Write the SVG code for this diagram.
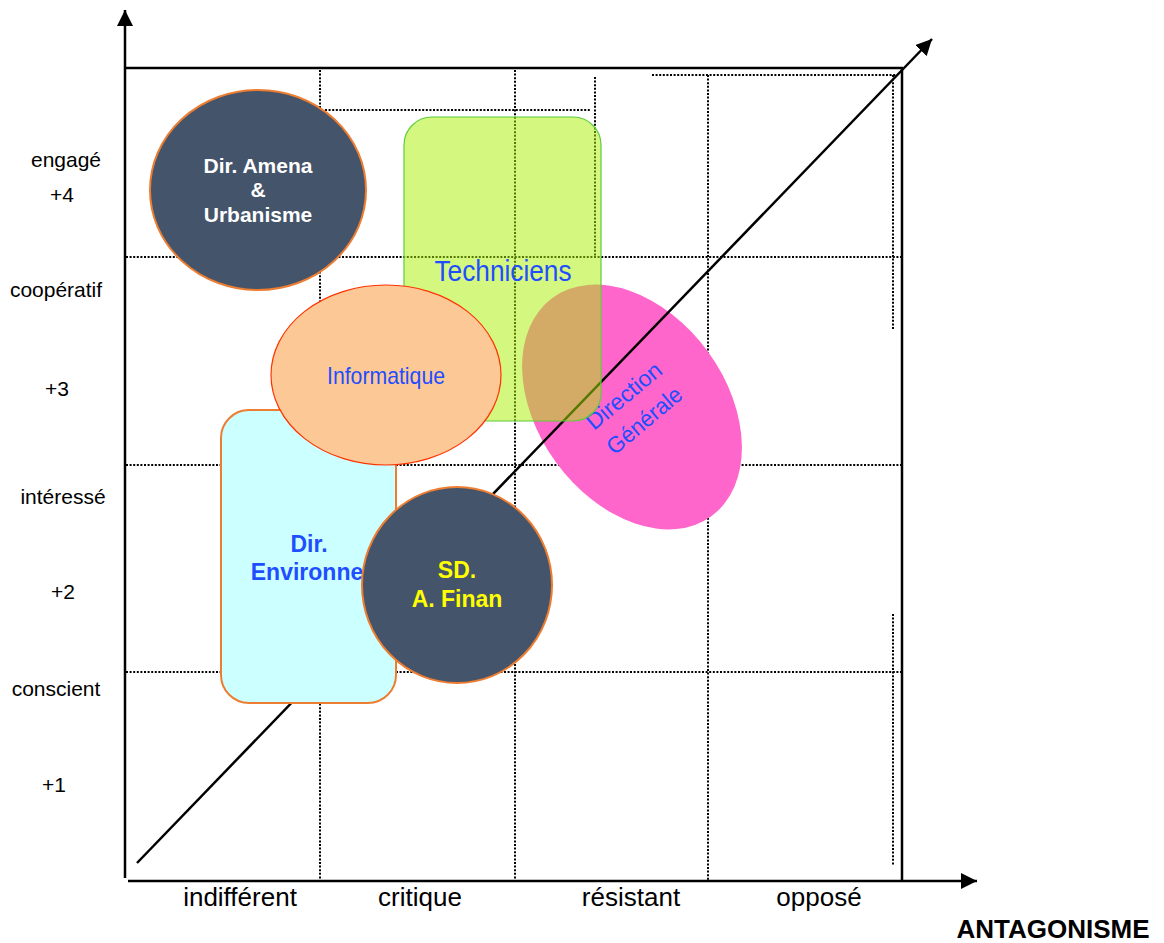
<svg xmlns="http://www.w3.org/2000/svg" width="1164" height="943" viewBox="0 0 1164 943">
<style>
text{font-family:"Liberation Sans",Arial,sans-serif}
.lbl{font-size:21px;fill:#000;text-anchor:middle}
.blbl{font-size:26px;fill:#000;text-anchor:middle}
.axis{stroke:#000;stroke-width:2.5;fill:none}
.dot{stroke:#000;stroke-width:2;stroke-dasharray:2 1.6;fill:none}
.dark{fill:#44546A;stroke:#ED7D31;stroke-width:2}
.wt{font-size:21px;font-weight:bold;fill:#fff;text-anchor:middle}
.blue{fill:#1F4EFF;text-anchor:middle}
</style>
<defs>
<marker id="ah" viewBox="0 0 10 10" refX="10" refY="5" markerUnits="userSpaceOnUse" markerWidth="16" markerHeight="16" orient="auto">
<path d="M0,0 L10,5 L0,10 z" fill="#000"/>
</marker>
</defs>
<rect width="1164" height="943" fill="#fff"/>
<g id="grid">
<line class="dot" x1="320" y1="70" x2="320" y2="880"/>
<line class="dot" x1="515" y1="70" x2="515" y2="880"/>
<line class="dot" x1="595" y1="77" x2="595" y2="257"/>
<line class="dot" x1="708" y1="75" x2="708" y2="880"/>
<line class="dot" x1="893" y1="75" x2="893" y2="330"/>
<line class="dot" x1="893" y1="614" x2="893" y2="866"/>
<line class="dot" x1="325" y1="110" x2="590" y2="110"/>
<line class="dot" x1="652" y1="75" x2="898" y2="75"/>
<line class="dot" x1="126" y1="257" x2="902" y2="257"/>
<line class="dot" x1="126" y1="465" x2="902" y2="465"/>
<line class="dot" x1="126" y1="672" x2="903" y2="672"/>
</g>
<g id="axes">
<line class="axis" x1="125" y1="878" x2="125" y2="10" marker-end="url(#ah)"/>
<line class="axis" x1="125" y1="68" x2="903" y2="68"/>
<line class="axis" x1="902" y1="68" x2="902" y2="881"/>
<line class="axis" x1="128" y1="881" x2="977" y2="881" marker-end="url(#ah)"/>
</g>
<g id="labels">
<text class="lbl" x="66" y="167">engagé</text>
<text class="lbl" x="62" y="202">+4</text>
<text class="lbl" x="56" y="297">coopératif</text>
<text class="lbl" x="57" y="396">+3</text>
<text class="lbl" x="63" y="504">intéressé</text>
<text class="lbl" x="63" y="599">+2</text>
<text class="lbl" x="56" y="696">conscient</text>
<text class="lbl" x="54" y="792">+1</text>
<text class="blbl" x="240" y="906">indifférent</text>
<text class="blbl" x="420" y="906">critique</text>
<text class="blbl" x="631" y="906">résistant</text>
<text class="blbl" x="819" y="906">opposé</text>
<text x="1053" y="938" style="font-size:26px;font-weight:bold;text-anchor:middle">ANTAGONISME</text>
</g>
<g id="node-direction-generale">
<ellipse cx="632" cy="407" rx="135" ry="94" transform="rotate(54 632 407)" fill="#FF66CC"/>
<g transform="translate(634 408) rotate(-40)">
<text class="blue" x="0" y="-8" style="font-size:23px" textLength="91" lengthAdjust="spacingAndGlyphs">Direction</text>
<text class="blue" x="0" y="24" style="font-size:23px" textLength="91" lengthAdjust="spacingAndGlyphs">Générale</text>
</g>
</g>
<g id="connectors">
<line x1="137" y1="863" x2="932" y2="39" stroke="#000" stroke-width="2.5" marker-end="url(#ah)"/>
</g>
<g id="node-techniciens">
<rect x="404" y="117" width="197" height="304" rx="28" fill="#A7EF00" fill-opacity="0.5" stroke="#5FCC3A" stroke-width="1.2"/>
<text class="blue" x="503" y="281" style="font-size:29px" textLength="137" lengthAdjust="spacingAndGlyphs">Techniciens</text>
</g>
<g id="node-dir-amena">
<ellipse class="dark" cx="258" cy="190" rx="108" ry="100"/>
<text class="wt" x="258" y="173">Dir. Amena</text>
<text class="wt" x="258" y="197">&amp;</text>
<text class="wt" x="258" y="222">Urbanisme</text>
</g>
<g id="node-dir-environnement">
<rect x="221" y="410" width="175" height="293" rx="28" fill="#CCFFFF" stroke="#ED7D31" stroke-width="2"/>
<text class="blue" x="309" y="552" style="font-size:23px;font-weight:bold">Dir.</text>
<text class="blue" x="307" y="580" style="font-size:23px;font-weight:bold">Environne</text>
</g>
<g id="node-informatique">
<ellipse cx="386" cy="375" rx="115" ry="90" fill="#FCC996" stroke="#FF3300" stroke-width="1.2"/>
<text class="blue" x="386" y="384" style="font-size:24px" textLength="118" lengthAdjust="spacingAndGlyphs">Informatique</text>
</g>
<g id="node-sd-finan">
<ellipse class="dark" cx="457" cy="585" rx="95" ry="98"/>
<text x="457" y="578" style="font-size:23px;font-weight:bold;fill:#FFFF00;text-anchor:middle">SD.</text>
<text x="457" y="607" style="font-size:23px;font-weight:bold;fill:#FFFF00;text-anchor:middle">A. Finan</text>
</g>
</svg>
